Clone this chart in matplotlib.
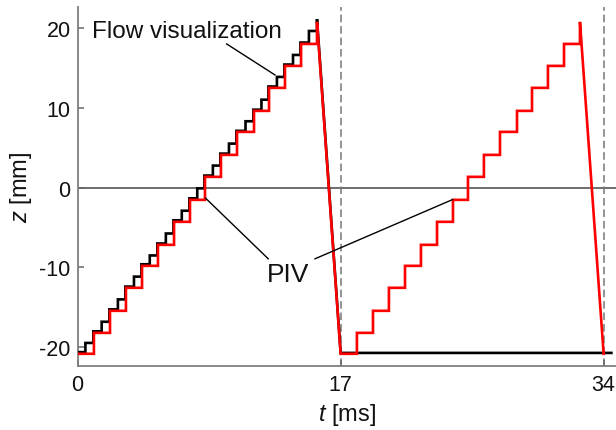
import matplotlib
matplotlib.use("Agg")
import matplotlib.pyplot as plt

plt.rcParams['font.family'] = ['Liberation Sans', 'DejaVu Sans']
plt.rcParams['mathtext.fontset'] = 'custom'
plt.rcParams['mathtext.it'] = 'Liberation Sans:italic'
plt.rcParams['mathtext.rm'] = 'Liberation Sans'

# ---- data ----
# Flow visualization (black): step start times [ms] and levels [mm], first stroke
flow_t = [0.0, 0.50, 1.01, 1.55, 2.05, 2.60, 3.08, 3.64, 4.12, 4.66, 5.15, 5.70,
          6.19, 6.73, 7.22, 7.73, 8.19, 8.74, 9.22, 9.78, 10.26, 10.85, 11.36,
          11.88, 12.33, 12.88, 13.36, 13.92, 14.40, 14.95]
flow_z = [-20.6, -19.45, -18.0, -16.8, -15.25, -14.0, -12.4, -11.15, -9.6, -8.5,
          -7.0, -5.75, -4.1, -2.9, -1.35, -0.1, 1.5, 2.75, 4.25, 5.5, 7.1, 8.3,
          9.75, 11.0, 12.65, 13.85, 15.4, 16.6, 18.15, 19.6]
flow_peak_t, flow_peak_z = 15.47, 21.1
flow_bottom_t, flow_bottom_z = 17.0, -20.7
flow_end_t = 34.5

# PIV (red): step start times and levels, cycle 1 and cycle 2
piv1_t = [0.0, 1.05, 2.09, 3.12, 4.16, 5.19, 6.23, 7.26, 8.23, 9.26, 10.30,
          11.40, 12.37, 13.40, 14.44]
piv2_t = [17.0, 18.05, 19.09, 20.12, 21.16, 22.19, 23.23, 24.26, 25.23, 26.26,
          27.30, 28.40, 29.37, 30.40, 31.44]
piv_z = [-20.81, -18.19, -15.43, -12.55, -9.80, -7.17, -4.29, -1.54, 1.34, 4.09,
         6.97, 9.60, 12.48, 15.23, 17.98]
piv1_peak_t, piv2_peak_t = 15.47, 32.47
piv_peak_z = 20.74
piv1_bottom_t, piv2_bottom_t = 17.0, 34.0
piv_bottom_z = -20.81

x_ticks = [0, 17, 34]
y_ticks = [-20, -10, 0, 10, 20]
period_lines = [17, 34]

# annotation anchors (data coords)
flow_label_xy = (0.93, 18.86)
flow_line = [(9.63, 17.98), (12.75, 14.1)]
piv_label_xy = (12.25, -11.64)
piv_lines = [[(12.32, -8.92), (8.27, -1.33)],
             [(15.34, -8.92), (24.24, -1.5)]]


def step_path(ts, zs, t_end):
    xs, ys = [], []
    for i, z in enumerate(zs):
        t0 = ts[i]
        t1 = ts[i + 1] if i + 1 < len(ts) else t_end
        xs += [t0, t1]
        ys += [z, z]
    return xs, ys


fig = plt.figure(figsize=(6.16, 4.31), dpi=100)
ax = fig.add_axes([0.1261, 0.1492, 0.8739, 0.8322])

ax.axhline(0, color='#555555', lw=1.2, zorder=1)
for xv in period_lines:
    ax.axvline(xv, color='#777777', lw=1.1, ls=(0, (5, 2.5)), zorder=1)

# black flow visualization
bx, by = step_path(flow_t, flow_z, flow_peak_t)
bx += [flow_peak_t, flow_bottom_t, flow_end_t]
by += [flow_peak_z, flow_bottom_z, flow_bottom_z]
ax.plot(bx, by, color='black', lw=1.9, zorder=3, solid_joinstyle='miter')

# red PIV
rx, ry = step_path(piv1_t, piv_z, piv1_peak_t)
rx += [piv1_peak_t, piv1_bottom_t]
ry += [piv_peak_z, piv_bottom_z]
r2x, r2y = step_path(piv2_t, piv_z, piv2_peak_t)
rx += r2x + [piv2_peak_t, piv2_bottom_t]
ry += r2y + [piv_peak_z, piv_bottom_z]
ax.plot(rx, ry, color='#ff0000', lw=1.9, zorder=4, solid_joinstyle='miter')

# annotations
ax.text(flow_label_xy[0], flow_label_xy[1], 'Flow visualization', fontsize=17.5,
        ha='left', va='baseline', color='#111111', zorder=6)
ax.plot([p[0] for p in flow_line], [p[1] for p in flow_line], color='black',
        lw=1.0, zorder=5)
ax.text(piv_label_xy[0], piv_label_xy[1], 'PIV', fontsize=19, ha='left',
        va='baseline', color='#111111', zorder=6)
for ln in piv_lines:
    ax.plot([p[0] for p in ln], [p[1] for p in ln], color='black', lw=1.0,
            zorder=5)

ax.set_xlim(0, 34.8)
ax.set_ylim(-22.3, 22.6)
ax.set_xticks(x_ticks)
ax.set_yticks(y_ticks)
ax.set_xticklabels([str(v) for v in x_ticks])
ax.set_yticklabels([str(v) for v in y_ticks])
ax.tick_params(direction='in', length=4, width=1.1, colors='#666666',
               labelcolor='#111111', labelsize=15.5, pad=5)
ax.tick_params(axis='x', pad=6)
for s in ['top', 'right']:
    ax.spines[s].set_visible(False)
for s in ['left', 'bottom']:
    ax.spines[s].set_color('#7f7f7f')
    ax.spines[s].set_linewidth(1.3)

ax.set_xlabel(r'$\it{t}$ [ms]', fontsize=17, color='#111111', labelpad=4)
ax.set_ylabel(r'$\it{z}$ [mm]', fontsize=17, color='#111111', labelpad=4)

fig.savefig('out.png', dpi=100)
